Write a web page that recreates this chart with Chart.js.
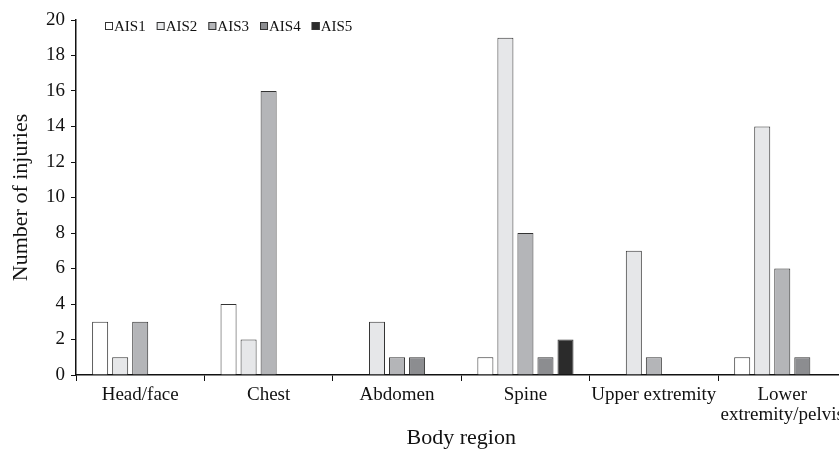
<!DOCTYPE html>
<html>
<head>
<meta charset="utf-8">
<script src="https://cdn.jsdelivr.net/npm/chart.js@4/dist/chart.umd.min.js"></script>
<style>
    html, body { margin: 0; padding: 0; background: #fff; overflow: hidden; }
    #wrap { width: 848px; height: 452px; }
</style>
</head>
<body>
<div id="wrap"><canvas id="chart" width="848" height="452"></canvas></div>
<script>
// Body regions on the x axis
const regions = ["Head/face", "Chest", "Abdomen", "Spine", "Upper extremity", ["Lower", "extremity/pelvis"]];

// Number of injuries per AIS level, one value per region
const ais1 = [3, 4, 0, 1, 0, 1];
const ais2 = [1, 2, 3, 19, 7, 14];
const ais3 = [3, 16, 1, 8, 1, 6];
const ais4 = [0, 0, 1, 1, 0, 1];
const ais5 = [0, 0, 0, 2, 0, 0];

const seriesNames = ["AIS1", "AIS2", "AIS3", "AIS4", "AIS5"];
const seriesColors = ["#ffffff", "#e6e7e9", "#b4b5b8", "#8c8d90", "#2b2b2b"];

const serif = "'Liberation Serif', 'DejaVu Serif', serif";

const datasets = [ais1, ais2, ais3, ais4, ais5].map(function (values, i) {
    return {
        label: seriesNames[i],
        data: values,
        backgroundColor: seriesColors[i],
        borderColor: "#333333",
        borderWidth: 1,
        categoryPercentage: 0.78,
        barPercentage: 0.8
    };
});

// Horizontal legend drawn inside the plot area, top left
const innerLegend = {
    id: "innerLegend",
    afterDraw(chart) {
        const ctx = chart.ctx;
        let x = chart.chartArea.left + 29;
        const y = chart.chartArea.top + 6;
        ctx.save();
        ctx.font = "15px " + serif;
        ctx.textBaseline = "middle";
        chart.data.datasets.forEach(function (ds) {
            ctx.fillStyle = ds.backgroundColor;
            ctx.fillRect(x, y - 4, 8, 8);
            ctx.strokeStyle = "#333";
            ctx.lineWidth = 1;
            ctx.strokeRect(x + 0.5, y - 3.5, 7, 7);
            ctx.fillStyle = "#111";
            ctx.fillText(ds.label, x + 9, y + 1);
            x += 9 + ctx.measureText(ds.label).width + 11;
        });
        ctx.restore();
    }
};

new Chart(document.getElementById("chart").getContext("2d"), {
    type: "bar",
    data: { labels: regions, datasets: datasets },
    plugins: [innerLegend],
    options: {
        responsive: false,
        animation: false,
        layout: { padding: { top: 20, left: 0, right: 0, bottom: 0 } },
        plugins: {
            tooltip: { enabled: false },
            legend: { display: false }
        },
        scales: {
            x: {
                afterFit(scale) { scale.height = 77; },
                grid: { display: true, drawOnChartArea: false, offset: true, color: "#111", tickLength: 6 },
                border: { color: "#111", width: 1.5 },
                ticks: { color: "#111", font: { family: serif, size: 19, lineHeight: 1.05 }, padding: 4, maxRotation: 0, autoSkip: false },
                title: { display: true, text: "Body region", color: "#111", font: { family: serif, size: 22 }, padding: { top: 0, bottom: 1 } }
            },
            y: {
                min: 0,
                max: 20,
                afterFit(scale) { scale.width = 76; },
                ticks: { stepSize: 2, color: "#111", font: { family: serif, size: 19 }, padding: 6 },
                grid: { display: true, drawOnChartArea: false, color: "#111", tickLength: 5 },
                border: { color: "#111", width: 1.5 },
                title: { display: true, text: "Number of injuries", color: "#111", font: { family: serif, size: 22 }, padding: { top: 8, bottom: 0 } }
            }
        }
    }
});
</script>
</body>
</html>
